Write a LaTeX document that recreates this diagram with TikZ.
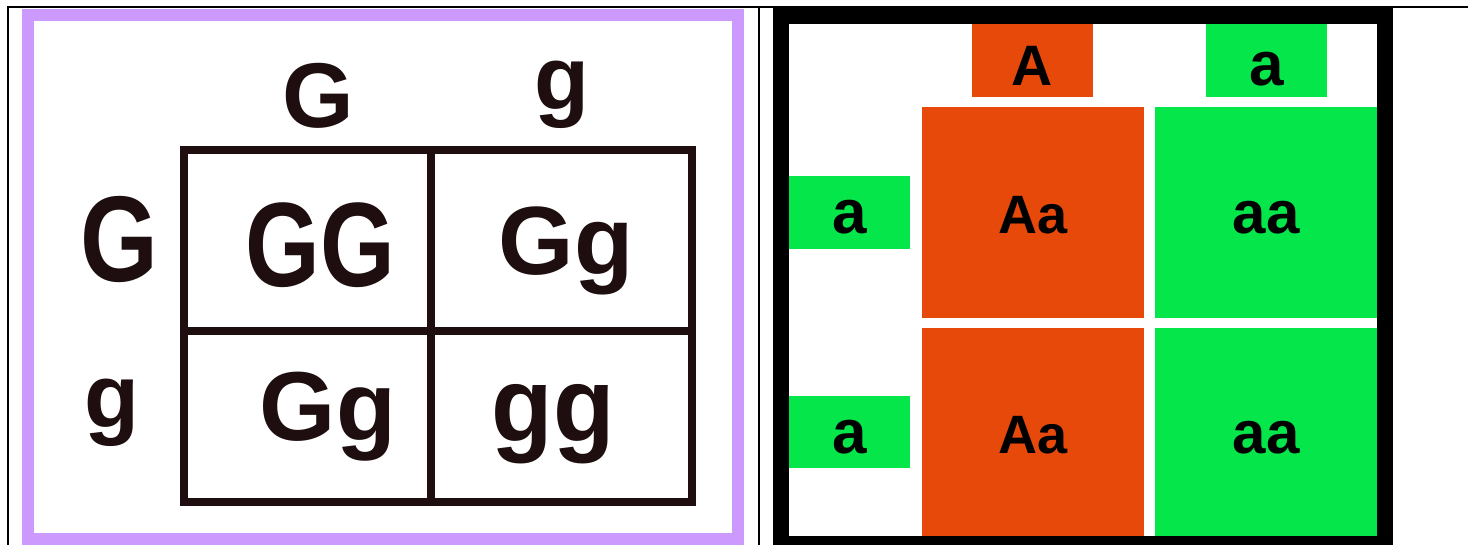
\documentclass[tikz,border=0pt]{standalone}
\usepackage{fontspec}
\setmainfont{Liberation Sans}
\usepackage{graphicx}
\definecolor{purp}{HTML}{CC99FF}
\definecolor{orng}{HTML}{E6490A}
\definecolor{grn}{HTML}{05E64B}
\definecolor{ink}{HTML}{1E0E10}
\newcommand\fsz[1]{\fontsize{#1}{#1}\selectfont\bfseries}
\begin{document}
\begin{tikzpicture}[x=1pt,y=-1pt,
  tblline/.style={line width=1.8pt,black},
  gtxt/.style={inner sep=0pt,anchor=base,text=ink},
  obox/.style={fill=orng,draw=none,inner sep=0pt,text=black},
  gbox/.style={fill=grn,draw=none,inner sep=0pt,text=black},
  smallbox/.style={minimum width=121pt,minimum height=73pt},
  bigbox/.style={minimum width=222pt}]
\useasboundingbox (0,0) rectangle (1468,545);
\fill[white] (0,0) rectangle (1468,545);
% table lines
\draw[tblline] (7,7) -- (1468,7);
\draw[tblline] (8,6) -- (8,545);
\draw[tblline] (759,6) -- (759,545);
% left picture: purple frame
\fill[purp] (22,9) rectangle (744,545);
\fill[white] (34,21) rectangle (732,533);
% grid
\draw[line width=8pt,ink] (184,150) rectangle (692,502);
\draw[line width=8pt,ink] (431,150) -- (431,502);
\draw[line width=8pt,ink] (184,331) -- (692,331);
% labels
\node[gtxt] (hG) at (318,128) {\fsz{92}G};
\node[gtxt] (hg) at (562,110) {\fsz{90}g};
\node[gtxt] (vG) at (119,282) {\fsz{122}\scalebox{0.82}[1]{G}};
\node[gtxt] (vg) at (112,428) {\fsz{90}g};
\node[gtxt] (cGG) at (320,287) {\fsz{120}\scalebox{0.8}[1]{GG}};
\node[gtxt] (cGg1) at (566,275) {\fsz{97}Gg};
\node[gtxt] (cGg2) at (328,440) {\fsz{98}Gg};
\node[gtxt] (cgg) at (553,442) {\fsz{106}\scalebox{0.95}[1]{gg}};
% right picture: black frame
\fill[black] (773,6) rectangle (1393,545);
\fill[white] (789,24) rectangle (1377,536);
\node[obox,smallbox] (tA) at (1032.5,60.5) {};
\node[gbox,smallbox] (ta) at (1266.5,60.5) {};
\node[gbox,smallbox] (la1) at (849.5,212.5) {};
\node[gbox,minimum width=121pt,minimum height=72pt] (la2) at (849.5,432) {};
\node[obox,bigbox,minimum height=211pt] (Aa1) at (1033,212.5) {};
\node[gbox,bigbox,minimum height=211pt] (aa1) at (1266,212.5) {};
\node[obox,bigbox,minimum height=208pt] (Aa2) at (1033,432) {};
\node[gbox,bigbox,minimum height=208pt] (aa2) at (1266,432) {};
% texts, placed on their baselines
\node[gtxt,text=black] (tAt) at ([yshift=-25pt]tA.center) {\fsz{57}A};
\node[gtxt,text=black] (tat) at ([yshift=-25pt]ta.center) {\fsz{62}a};
\node[gtxt,text=black] (la1t) at ([yshift=-21pt]la1.center) {\fsz{62}a};
\node[gtxt,text=black] (la2t) at ([yshift=-21pt]la2.center) {\fsz{62}a};
\node[gtxt,text=black] (Aa1t) at ([yshift=-21pt]Aa1.center) {\fsz{54}Aa};
\node[gtxt,text=black] (aa1t) at ([yshift=-21pt]aa1.center) {\fsz{60}aa};
\node[gtxt,text=black] (Aa2t) at ([yshift=-21pt]Aa2.center) {\fsz{54}Aa};
\node[gtxt,text=black] (aa2t) at ([yshift=-21pt]aa2.center) {\fsz{60}aa};
\end{tikzpicture}
\end{document}
